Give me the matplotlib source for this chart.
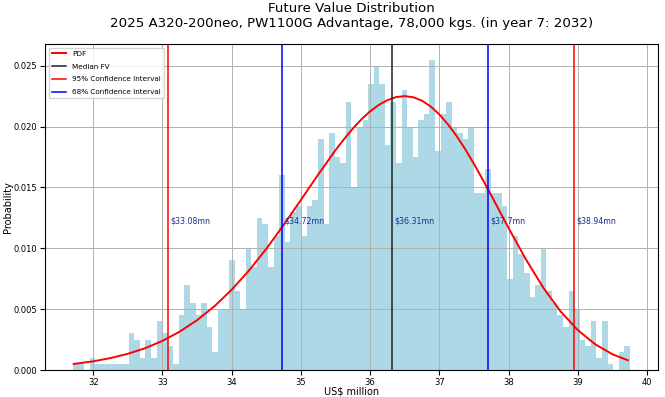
import numpy as np
import matplotlib.pyplot as plt

# histogram: 100 bins between min and max FV, heights = share of 2000 runs
fv_min = 31.71
fv_max = 39.75
bin_probs = [
    0.0005, 0.0005, 0.0, 0.001, 0.0005, 0.0005, 0.0005, 0.0005, 0.0005, 0.0005,
    0.003, 0.0025, 0.001, 0.0025, 0.001, 0.004, 0.003, 0.002, 0.0005, 0.0045,
    0.007, 0.0055, 0.0045, 0.0055, 0.0035, 0.0015, 0.005, 0.005, 0.009, 0.0065,
    0.005, 0.01, 0.0085, 0.0125, 0.012, 0.0085, 0.011, 0.016, 0.0105, 0.013,
    0.0135, 0.011, 0.0135, 0.014, 0.019, 0.012, 0.0195, 0.0175, 0.017, 0.022,
    0.015, 0.02, 0.0205, 0.0235, 0.025, 0.0235, 0.0185, 0.022, 0.017, 0.023,
    0.02, 0.0175, 0.0205, 0.021, 0.0255, 0.018, 0.021, 0.022, 0.02, 0.0195,
    0.019, 0.02, 0.0145, 0.0145, 0.0165, 0.0145, 0.0145, 0.0135, 0.0075, 0.011,
    0.0095, 0.008, 0.006, 0.007, 0.01, 0.0065, 0.0055, 0.0045, 0.0035, 0.0065,
    0.005, 0.0025, 0.002, 0.004, 0.001, 0.004, 0.0005, 0.0, 0.0015, 0.002,
]

# fitted pdf (scaled to bin width)
pdf_x = [31.72, 32.0, 32.25, 32.5, 32.75, 33.0, 33.25, 33.5, 33.75, 34.0,
         34.25, 34.5, 34.75, 35.0, 35.25, 35.5, 35.625, 35.75, 35.875, 36.0,
         36.125, 36.25, 36.375, 36.5, 36.625, 36.75, 36.875, 37.0, 37.125,
         37.25, 37.375, 37.5, 37.625, 37.75, 38.0, 38.25, 38.5, 38.75, 39.0,
         39.25, 39.5, 39.72]
pdf_y = [0.0005, 0.00071, 0.00098, 0.00133, 0.00179, 0.00239, 0.00315, 0.00409,
         0.00523, 0.00659, 0.00817, 0.00995, 0.01191, 0.01397, 0.01606, 0.01806,
         0.01898, 0.01983, 0.0206, 0.02125, 0.02178, 0.02217, 0.02242, 0.0225,
         0.0224, 0.02212, 0.02164, 0.02099, 0.02017, 0.01921, 0.01812, 0.01692,
         0.01565, 0.01433, 0.01165, 0.00908, 0.00676, 0.00481, 0.00327, 0.00211,
         0.00129, 0.0008]

median_fv = 36.31
ci95 = [33.08, 38.94]
ci68 = [34.72, 37.7]

edges = np.linspace(fv_min, fv_max, len(bin_probs) + 1)
centers = (edges[:-1] + edges[1:]) / 2

fig, ax = plt.subplots(figsize=(6.65, 3.97), dpi=100)
fig.subplots_adjust(left=0.068, right=0.989, bottom=0.068, top=0.889)

ax.hist(centers, bins=edges, weights=bin_probs, color='lightblue')
ax.plot(pdf_x, pdf_y, color='red', lw=1.4, label='PDF')
ax.axvline(median_fv, color='#222222', lw=1.1, label='Median FV')
ax.axvline(ci95[0], color='red', lw=1.1, label='95% Confidence Interval')
ax.axvline(ci95[1], color='red', lw=1.1)
ax.axvline(ci68[0], color='blue', lw=1.1, label='68% Confidence Interval')
ax.axvline(ci68[1], color='blue', lw=1.1)

for v in [ci95[0], ci68[0], median_fv, ci68[1], ci95[1]]:
    ax.text(v + 0.04, 0.01225, '\\$' + ('%.2f' % v).rstrip('0') + 'mn',
            color='#202a90', fontsize=5.7, va='center')

ax.grid(True, color='#b0b0b0', lw=0.7)
ax.set_ylim(0, None)
ax.tick_params(labelsize=6, pad=2)
ax.yaxis.set_major_formatter(plt.FormatStrFormatter('%.3f'))
ax.set_xlabel('US$ million', fontsize=7, labelpad=0)
ax.set_ylabel('Probability', fontsize=7, labelpad=1)
ax.set_title('Future Value Distribution\n'
             '2025 A320-200neo, PW1100G Advantage, 78,000 kgs. (in year 7: 2032)',
             fontsize=9.6, pad=12)
ax.legend(loc='upper left', fontsize=5.2, labelspacing=0.95, handlelength=2.0)

fig.savefig('out.png')
